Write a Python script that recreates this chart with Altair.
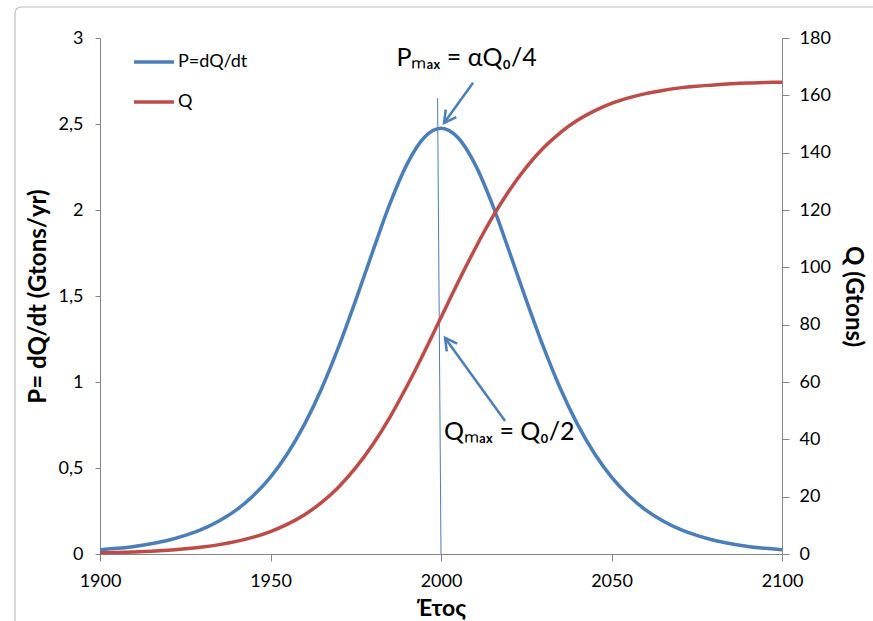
import altair as alt
import pandas as pd

# ---- data ----
years = [1900, 1905, 1910, 1915, 1920, 1925, 1930, 1935, 1940, 1945, 1950,
         1955, 1960, 1965, 1970, 1975, 1980, 1985, 1990, 1995, 2000,
         2005, 2010, 2015, 2020, 2025, 2030, 2035, 2040, 2045, 2050,
         2055, 2060, 2065, 2070, 2075, 2080, 2085, 2090, 2095, 2100]
p_values = [0.025, 0.033, 0.044, 0.060, 0.080, 0.108, 0.144, 0.193, 0.256, 0.340, 0.447,
            0.584, 0.755, 0.962, 1.205, 1.476, 1.760, 2.035, 2.265, 2.420, 2.475,
            2.420, 2.265, 2.035, 1.760, 1.476, 1.205, 0.962, 0.755, 0.584, 0.447,
            0.340, 0.256, 0.193, 0.144, 0.108, 0.080, 0.060, 0.044, 0.033, 0.025]
q_values = [0.41, 0.55, 0.74, 1.0, 1.35, 1.81, 2.44, 3.27, 4.39, 5.87, 7.82,
            10.4, 13.7, 18.0, 23.4, 30.1, 38.2, 47.7, 58.5, 70.2, 82.5,
            94.8, 106.5, 117.3, 126.8, 134.9, 141.6, 147.0, 151.3, 154.6, 157.2,
            159.1, 160.6, 161.7, 162.6, 163.2, 163.6, 164.0, 164.3, 164.45, 164.6]
series_names = ["P=dQ/dt", "Q"]
series_colors = ["#4a7ebb", "#be4b48"]

x_ticks = [1900, 1950, 2000, 2050, 2100]
p_ticks = [0, 0.5, 1, 1.5, 2, 2.5, 3]
q_ticks = [0, 20, 40, 60, 80, 100, 120, 140, 160, 180]

# annotations (in data units)
vline_x = [2000]; vline_x2 = [1999.0]; vline_y = [0]; vline_y2 = [2.65]
arrow_x = [2009.4, 2018.8]; arrow_y = [2.74, 0.773]
arrow_x2 = [2000.9, 2001.2]; arrow_y2 = [2.506, 1.256]
arrow_angle = [216, 324]
label_text = ["Pₘₐₓ = αQ₀/4", "Qₘₐₓ = Q₀/2"]
label_x = [2007.5, 2020.0]
label_y = [2.84, 0.66]

FONT = "Lato"
AX = "#868686"

df_p = pd.DataFrame({"year": years, "P": p_values, "series": series_names[0]})
df_q = pd.DataFrame({"year": years, "Q": q_values, "series": series_names[1]})
df_v = pd.DataFrame({"year": vline_x, "year2": vline_x2, "P": vline_y, "P2": vline_y2})
df_a = pd.DataFrame({"year": arrow_x, "P": arrow_y, "year2": arrow_x2, "P2": arrow_y2,
                     "ang": arrow_angle})
df_t = pd.DataFrame({"year": label_x, "P": label_y, "txt": label_text})

xscale = alt.Scale(domain=[1900, 2100], nice=False, zero=False)
pscale = alt.Scale(domain=[0, 3], nice=False)
qscale = alt.Scale(domain=[0, 180], nice=False)
color = alt.Color("series:N",
                  scale=alt.Scale(domain=series_names, range=series_colors),
                  legend=alt.Legend(title=None, orient="none", legendX=32, legendY=2,
                                    symbolType="stroke", symbolSize=1600,
                                    symbolStrokeWidth=3.5, labelFont=FONT,
                                    labelFontSize=18, labelColor="black",
                                    rowPadding=9, labelOffset=2))

x_enc = alt.X("year:Q", scale=xscale,
              axis=alt.Axis(values=x_ticks, format="d", title="Έτος", tickSize=7,
                            labelPadding=11, labelFlush=False, labelBound=False,
                            titleFontSize=23, titleFontWeight="bold",
                            titlePadding=7))

p_line = alt.Chart(df_p).mark_line(strokeWidth=3.5, interpolate="monotone").encode(
    x=x_enc,
    y=alt.Y("P:Q", scale=pscale,
            axis=alt.Axis(values=p_ticks, title="P= dQ/dt (Gtons/yr)",
                          labelExpr="replace(format(datum.value, '.1~f'), '.', ',')",
                          tickSize=5, labelPadding=12, titleFontSize=24,
                          titleFontWeight="bold", titlePadding=8)),
    color=color,
)

vline = alt.Chart(df_v).mark_rule(color="#4a7ebb", strokeWidth=1).encode(
    x=alt.X("year:Q", scale=xscale), x2="year2:Q",
    y=alt.Y("P:Q", scale=pscale), y2="P2:Q")

arrows = alt.Chart(df_a).mark_rule(color="#4a7ebb", strokeWidth=2.5).encode(
    x=alt.X("year:Q", scale=xscale), x2="year2:Q",
    y=alt.Y("P:Q", scale=pscale), y2="P2:Q")

heads = alt.Chart(df_a).mark_point(
    shape="M -0.55 1 L 0 0 L 0.55 1", filled=False, color="#4a7ebb",
    strokeWidth=2.5, size=560, opacity=1).encode(
    x=alt.X("year2:Q", scale=xscale),
    y=alt.Y("P2:Q", scale=pscale),
    angle=alt.Angle("ang:Q", scale=None))

labels = alt.Chart(df_t).mark_text(font=FONT, fontSize=25, color="black",
                                   align="center", baseline="alphabetic").encode(
    x=alt.X("year:Q", scale=xscale),
    y=alt.Y("P:Q", scale=pscale),
    text="txt:N")

p_group = alt.layer(p_line, vline, arrows, heads, labels)

q_line = alt.Chart(df_q).mark_line(strokeWidth=3.5, interpolate="monotone").encode(
    x=alt.X("year:Q", scale=xscale),
    y=alt.Y("Q:Q", scale=qscale,
            axis=alt.Axis(orient="right", values=q_ticks, title="Q (Gtons)",
                          tickSize=7, labelPadding=10, titleFontSize=24,
                          titleFontWeight="bold", titleAngle=90, titlePadding=10)),
    color=color,
)

border = alt.Chart(pd.DataFrame({"k": [0]})).mark_rect(
    fill=None, stroke="#bfbfbf", strokeWidth=1.2, cornerRadius=6).encode(
    x=alt.value(-85), x2=alt.value(800), y=alt.value(-31), y2=alt.value(640))

chart = alt.layer(border, p_group, q_line).resolve_scale(y="independent").properties(
    width=682, height=516,
    autosize=alt.AutoSizeParams(type="none"),
    padding={"left": 100, "top": 38, "right": 91, "bottom": 67},
    background="white",
).configure_view(stroke=None).configure_axis(
    grid=False, domainColor=AX, tickColor=AX, labelColor="black",
    labelFont=FONT, labelFontSize=18, titleFont=FONT, titleColor="black",
    domainWidth=1, tickWidth=1,
)

chart.save("out.html", embed_options={"renderer": "svg", "actions": False})
